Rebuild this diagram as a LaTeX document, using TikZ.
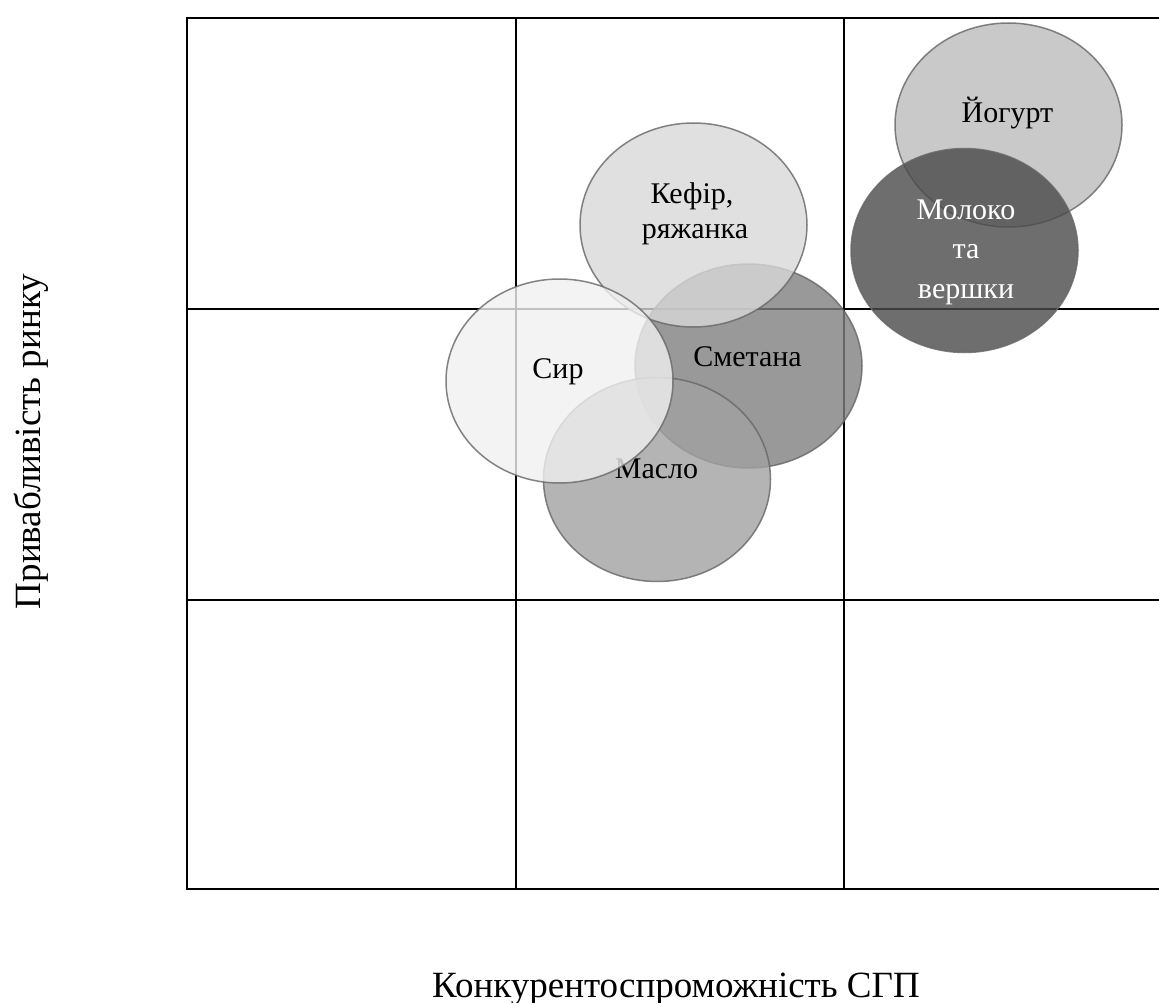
\documentclass[tikz,border=0pt]{standalone}
\usepackage{fontspec}
\setmainfont{Liberation Serif}
\usetikzlibrary{shapes.geometric}
\definecolor{cYog}{gray}{0.733}
\definecolor{cMol}{gray}{0.29}
\definecolor{cKef}{gray}{0.847}
\definecolor{cSme}{gray}{0.498}
\definecolor{cMas}{gray}{0.631}
\definecolor{cSyr}{gray}{0.941}
\tikzset{
  gridline/.style={line width=2.2pt, black},
  blob/.style={ellipse, draw=black!60, line width=1.5pt, opacity=0.8, inner sep=0pt, minimum width=227pt, minimum height=204pt},
  lab/.style={anchor=base, inner sep=0pt, font=\fontsize{30}{35}\selectfont},
  axlab/.style={anchor=base, inner sep=0pt, font=\fontsize{37}{42}\selectfont}
}
\begin{document}
\begin{tikzpicture}[x=1pt, y=-1pt]
\useasboundingbox (0,0) rectangle (1159,1003);
\clip (0,0) rectangle (1159,1003);
% grid
\draw[gridline] (187,18) rectangle (1172,889);
\draw[gridline] (516,18) -- (516,889);
\draw[gridline] (844,18) -- (844,889);
\draw[gridline] (187,309) -- (1172,309);
\draw[gridline] (187,600) -- (1172,600);
% ellipses
\node[blob, fill=cYog] (yog) at (1008.5,125) {};
\node[lab] (tyog) at (1007.5,123) {Йогурт};
\node[blob, fill=cMol] (mol) at (964.5,250.5) {};
\node[lab, text=white] (tmol1) at (966,219.3) {Молоко};
\node[lab, text=white] (tmol2) at (966,258.3) {та};
\node[lab, text=white] (tmol3) at (966,298.3) {вершки};
\node[blob, fill=cSme] (sme) at (748.5,366) {};
\node[lab] (tsme) at (747.5,366.7) {Сметана};
\node[blob, fill=cMas] (mas) at (657,479.5) {};
\node[lab] (tmas) at (656.5,478) {Масло};
\node[blob, fill=cKef] (kef) at (693.5,225) {};
\node[lab] (tkef1) at (692,203.3) {Кефір,};
\node[lab] (tkef2) at (695,238) {ряжанка};
\node[blob, fill=cSyr] (syr) at (559.5,381) {};
\node[lab] (tsyr) at (558,378) {Сир};
% axis labels
\node[axlab] (xlab) at (676,997) {Конкурентоспроможність СГП};
\node[axlab, rotate=90] (ylab) at (40,441.5) {Привабливість ринку};
\end{tikzpicture}
\end{document}
